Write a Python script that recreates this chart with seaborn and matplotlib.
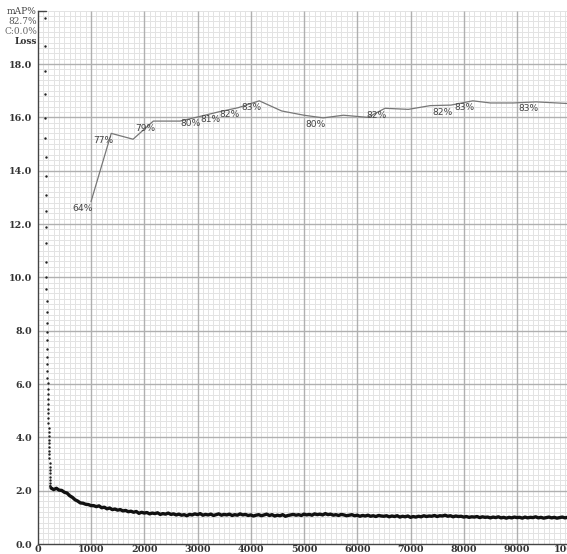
import numpy as np
import pandas as pd
import matplotlib
matplotlib.use("Agg")
import matplotlib.pyplot as plt
import seaborn as sns
from matplotlib.ticker import MultipleLocator

# ---------------- data ----------------
# initial steep drop (per-iteration dots)
early_start = 135
early_step = 2
early_loss = [19.71, 18.68, 17.75, 16.86, 15.96, 15.21, 14.5, 13.8, 13.1, 12.5,
              11.9, 11.3, 10.56, 10.02, 9.55, 9.12, 8.69, 8.30, 7.96, 7.65,
              7.31, 7.00, 6.74, 6.49, 6.24, 6.02, 5.80, 5.62, 5.44, 5.25,
              5.07, 4.90, 4.71, 4.52, 4.36, 4.21, 4.05, 3.90, 3.77, 3.62,
              3.49, 3.36, 3.21, 3.05, 2.90, 2.77, 2.65, 2.52, 2.40, 2.27, 2.18]

# loss 250..1000 every 50 iterations
loss_a_start, loss_a_step = 250, 50
loss_a = [2.10, 2.04, 2.09, 2.02, 2.01, 1.94, 1.91, 1.81, 1.75, 1.66, 1.61,
          1.54, 1.53, 1.49, 1.48, 1.44]
# loss 1050..10000 every 50 iterations
loss_b_start, loss_b_step = 1050, 50
loss_b = [1.44, 1.40, 1.43, 1.36, 1.38, 1.32, 1.35, 1.29, 1.31, 1.27,
          1.29, 1.24, 1.26, 1.21, 1.23, 1.19, 1.22, 1.15, 1.19, 1.16,
          1.18, 1.13, 1.16, 1.14, 1.17, 1.11, 1.14, 1.12, 1.16, 1.11,
          1.13, 1.09, 1.12, 1.08, 1.10, 1.06, 1.11, 1.09, 1.13, 1.10,
          1.14, 1.08, 1.11, 1.09, 1.12, 1.07, 1.10, 1.13, 1.08, 1.11,
          1.09, 1.12, 1.07, 1.10, 1.08, 1.13, 1.09, 1.11, 1.07, 1.09,
          1.05, 1.08, 1.10, 1.06, 1.09, 1.12, 1.07, 1.10, 1.05, 1.08,
          1.06, 1.10, 1.04, 1.07, 1.09, 1.11, 1.08, 1.10, 1.07, 1.12,
          1.09, 1.11, 1.08, 1.13, 1.10, 1.12, 1.09, 1.14, 1.10, 1.12,
          1.08, 1.10, 1.07, 1.11, 1.09, 1.06, 1.08, 1.10, 1.06, 1.08,
          1.04, 1.07, 1.05, 1.08, 1.04, 1.06, 1.03, 1.07, 1.05, 1.04,
          1.06, 1.02, 1.05, 1.03, 1.06, 1.01, 1.04, 1.02, 1.05, 1.00,
          1.03, 1.01, 1.04, 1.02, 1.06, 1.03, 1.05, 1.04, 1.07, 1.03,
          1.06, 1.05, 1.08, 1.04, 1.06, 1.02, 1.05, 1.03, 1.04, 1.01,
          1.03, 1.00, 1.02, 1.01, 1.03, 0.99, 1.02, 1.00, 1.01, 0.98,
          1.01, 0.99, 1.02, 0.98, 1.00, 0.97, 1.00, 0.98, 1.01, 0.99,
          1.00, 0.97, 1.01, 0.98, 1.00, 0.99, 1.02, 0.98, 1.00, 0.97,
          0.99, 1.01, 0.98, 1.00, 0.97, 0.99, 1.01, 0.98, 1.00, 0.98]

# mAP evaluations
map_iters = [1000, 1380, 1790, 2170, 2670, 3015, 3385, 3760, 4160, 4580,
             5000, 5360, 5740, 6200, 6520, 6960, 7370, 7760, 8170, 8500,
             8930, 9360, 9950]
map_vals = [64.2, 77.0, 75.9, 79.3, 79.3, 80.1, 81.0, 81.8, 83.1, 81.2,
            80.4, 79.9, 80.4, 80.0, 81.7, 81.5, 82.2, 82.3, 83.1, 82.7,
            82.7, 82.9, 82.6]
map_labeled = [1, 1, 0, 1, 0, 1, 1, 1, 1, 0,
               0, 1, 0, 0, 1, 0, 0, 1, 1, 0,
               0, 1, 0]

y_ticks = [0.0, 2.0, 4.0, 6.0, 8.0, 10.0, 12.0, 14.0, 16.0, 18.0]
x_ticks = [0, 1000, 2000, 3000, 4000, 5000, 6000, 7000, 8000, 9000, 10000]
header = ["mAP%", "82.7%", "C:0.0%", "Loss"]

# ---------------- frames ----------------
df_early = pd.DataFrame({
    "iter": early_start + early_step * np.arange(len(early_loss)),
    "loss": early_loss})
df_loss = pd.DataFrame({
    "iter": np.concatenate([loss_a_start + loss_a_step * np.arange(len(loss_a)),
                            loss_b_start + loss_b_step * np.arange(len(loss_b))]),
    "loss": loss_a + loss_b})
df_map = pd.DataFrame({"iter": map_iters,
                       "map": np.array(map_vals) / 5.0})  # 100% -> top (20)

# ---------------- plot ----------------
sns.set_style("white")
plt.rcParams["font.family"] = ["DejaVu Serif"]

fig = plt.figure(figsize=(5.67, 5.54), dpi=100)
ax = fig.add_axes([37.75 / 567, 10 / 554, 532.5 / 567, 533.3 / 554])

ax.set_xlim(0, 10000)
ax.set_ylim(0, 20)
ax.xaxis.set_minor_locator(MultipleLocator(100))
ax.yaxis.set_minor_locator(MultipleLocator(0.2))
ax.grid(which="minor", color="#e3e3e3", linewidth=0.7, zorder=0)
ax.grid(which="major", visible=False)
ax.set_axisbelow(True)
# major grid drawn above the minor grid
ax.vlines(x_ticks[1:], 0, 20, color="#b0b0b0", linewidth=1.0, zorder=1)
ax.hlines(y_ticks[1:], 0, 10000, color="#b0b0b0", linewidth=1.0, zorder=1)

sns.lineplot(data=df_loss, x="iter", y="loss", ax=ax, color="#111111",
             linewidth=2.4, zorder=3)
sns.lineplot(x=[df_early["iter"].iloc[-1], df_loss["iter"].iloc[0]],
             y=[df_early["loss"].iloc[-1], df_loss["loss"].iloc[0]],
             ax=ax, color="#111111", linewidth=1.5, zorder=3)
sns.scatterplot(data=df_early, x="iter", y="loss", ax=ax, color="#222222",
                s=3, linewidth=0, zorder=3)
sns.lineplot(data=df_map, x="iter", y="map", ax=ax, color="#777777",
             linewidth=0.9, zorder=2)

for it, v, lab in zip(map_iters, map_vals, map_labeled):
    if lab:
        ax.annotate(f"{v:.0f}%", xy=(it, v / 5.0), xytext=(-8, -7),
                    textcoords="offset pixels", ha="center", va="center",
                    fontsize=6.6, color="#444444", family="DejaVu Sans")

ax.set_xticks(x_ticks)
ax.set_yticks(y_ticks)
ax.set_xticklabels([str(t) for t in x_ticks], fontsize=6.8, fontweight="bold",
                   color="#333333")
ax.set_yticklabels([f"{t:.1f}" for t in y_ticks], fontsize=6.8,
                   fontweight="bold", color="#333333")
ax.tick_params(axis="x", length=0, pad=1)
ax.tick_params(axis="y", length=3, width=0.8, pad=1, color="#333333")
ax.set_xlabel("")
ax.set_ylabel("")
for s in ["top", "right"]:
    ax.spines[s].set_visible(False)
for s in ["left", "bottom"]:
    ax.spines[s].set_color("#444444")
    ax.spines[s].set_linewidth(1.0)
    ax.spines[s].set_zorder(4)

# header labels at top-left
hdr_y = [12, 22, 32, 41]
hdr_col = ["#444444", "#555555", "#666666", "#333333"]
hdr_w = ["normal", "normal", "normal", "bold"]
for t, yy, c, w in zip(header, hdr_y, hdr_col, hdr_w):
    fig.text(37 / 567, 1 - yy / 554, t, ha="right", va="center",
             fontsize=6.5, color=c, fontweight=w)
ax.plot([0, 150], [20, 20], color="#444444", linewidth=1.0, clip_on=False)

fig.savefig("out.png", dpi=100)
